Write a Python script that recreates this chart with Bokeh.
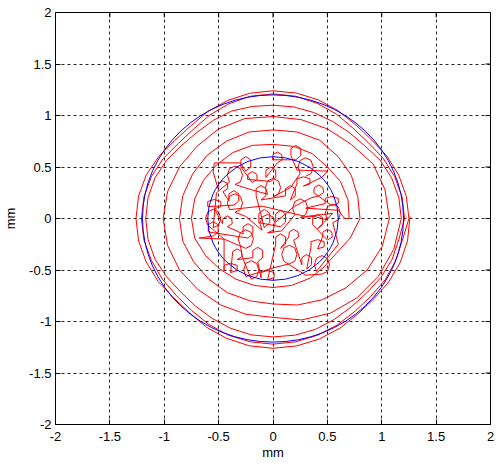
import math
from bokeh.plotting import figure
from bokeh.models import FixedTicker, Range1d
from bokeh.embed import file_html
from bokeh.resources import INLINE

# ---------------- data ----------------
tick_values = [-2, -1.5, -1, -0.5, 0, 0.5, 1, 1.5, 2]
tick_labels = ["-2", "-1.5", "-1", "-0.5", "0", "0.5", "1", "1.5", "2"]

circle_x = [0, 0]
circle_y = [0, 0]
circle_r = [0.6, 1.2]

# red trajectory (mm): first the wide lobes of the inner tangle ...
lobes_path = [
    (0.30, 0.41), (0.35, 0.436), (0.37, 0.50), (0.35, 0.564), (0.30, 0.59), (0.25, 0.564), (0.23, 0.50), (0.25, 0.436),
    (0.16, 0.30),
    (0.00, 0.21), (0.05, 0.236), (0.07, 0.30), (0.05, 0.364), (0.00, 0.39), (-0.05, 0.364), (-0.07, 0.30), (-0.05, 0.236),
    (-0.20, 0.28),
    (-0.35, 0.33), (-0.30, 0.356), (-0.28, 0.42), (-0.30, 0.484), (-0.35, 0.51), (-0.40, 0.484), (-0.42, 0.42), (-0.40, 0.356),
    (-0.52, 0.25),
    (-0.55, -0.09), (-0.50, -0.064), (-0.48, 0.00), (-0.50, 0.064), (-0.55, 0.09), (-0.60, 0.064), (-0.62, 0.00), (-0.60, -0.064),
    (-0.45, -0.20),
    (-0.25, -0.29), (-0.20, -0.264), (-0.18, -0.20), (-0.20, -0.136), (-0.25, -0.11), (-0.30, -0.136), (-0.32, -0.20), (-0.30, -0.264),
    (-0.28, -0.38),
    (-0.20, -0.59), (-0.15, -0.564), (-0.13, -0.50), (-0.15, -0.436), (-0.20, -0.41), (-0.25, -0.436), (-0.27, -0.50), (-0.25, -0.564),
    (0.00, -0.48),
    (0.15, -0.44), (0.20, -0.414), (0.22, -0.35), (0.20, -0.286), (0.15, -0.26), (0.10, -0.286), (0.08, -0.35), (0.10, -0.414),
    (0.30, -0.55),
    (0.45, -0.54), (0.50, -0.514), (0.52, -0.45), (0.50, -0.386), (0.45, -0.36), (0.40, -0.386), (0.38, -0.45), (0.40, -0.514),
    (0.60, -0.25),
    (0.55, -0.04), (0.60, -0.014), (0.62, 0.05), (0.60, 0.114), (0.55, 0.14), (0.50, 0.114), (0.48, 0.05), (0.50, -0.014),
    (0.38, 0.02),
    (0.25, 0.01), (0.30, 0.036), (0.32, 0.10), (0.30, 0.164), (0.25, 0.19), (0.20, 0.164), (0.18, 0.10), (0.20, 0.036),
    (0.08, -0.12),
    (-0.05, -0.14), (0.00, -0.114), (0.02, -0.05), (0.00, 0.014), (-0.05, 0.04), (-0.10, 0.014), (-0.12, -0.05), (-0.10, -0.114),
    (-0.25, 0.02),
    (-0.35, 0.06), (-0.30, 0.086), (-0.28, 0.15), (-0.30, 0.214), (-0.35, 0.24), (-0.40, 0.214), (-0.42, 0.15), (-0.40, 0.086),
    (-0.10, 0.12), (0.30, 0.02),
]

# ... then the small curls of the inner tangle ...
inner_path = [
    (0.55, 0.05),
    (0.41, -0.10), (0.455, -0.06), (0.455, 0.01), (0.41, 0.04), (0.365, 0.01), (0.365, -0.06),
    (0.50, -0.21), (0.545, -0.18), (0.54, -0.13), (0.50, -0.105), (0.46, -0.13), (0.455, -0.18),
    (0.41, -0.295), (0.47, -0.275), (0.47, -0.225), (0.41, -0.205), (0.35, -0.225), (0.35, -0.275),
    (0.31, -0.49), (0.355, -0.45), (0.355, -0.38), (0.31, -0.35), (0.265, -0.38), (0.265, -0.45),
    (0.19, -0.21), (0.235, -0.18), (0.23, -0.13), (0.19, -0.105), (0.15, -0.13), (0.145, -0.18),
    (0.07, -0.29), (0.115, -0.25), (0.115, -0.18), (0.07, -0.15), (0.025, -0.18), (0.025, -0.25),
    (-0.05, -0.595), (0.01, -0.575), (0.01, -0.525), (-0.05, -0.505), (-0.11, -0.525), (-0.11, -0.575),
    (-0.14, -0.42), (-0.095, -0.38), (-0.095, -0.31), (-0.14, -0.28), (-0.185, -0.31), (-0.185, -0.38),
    (-0.33, -0.40), (-0.285, -0.37), (-0.29, -0.32), (-0.33, -0.295), (-0.37, -0.32), (-0.375, -0.37),
    (-0.39, -0.525), (-0.33, -0.505), (-0.33, -0.455), (-0.39, -0.435), (-0.45, -0.455), (-0.45, -0.505),
    (-0.45, -0.20), (-0.68, -0.19),
    (-0.55, -0.17), (-0.505, -0.13), (-0.505, -0.06), (-0.55, -0.03), (-0.595, -0.06), (-0.595, -0.13),
    (-0.23, -0.19), (-0.185, -0.15), (-0.185, -0.08), (-0.23, -0.05), (-0.275, -0.08), (-0.275, -0.15),
    (-0.42, -0.08), (-0.375, -0.05), (-0.38, 0.00), (-0.42, 0.025), (-0.46, 0.00), (-0.465, -0.05),
    (-0.54, 0.095), (-0.48, 0.115), (-0.48, 0.165), (-0.54, 0.185), (-0.60, 0.165), (-0.60, 0.115),
    (-0.36, 0.13), (-0.315, 0.17), (-0.315, 0.24), (-0.36, 0.27), (-0.405, 0.24), (-0.405, 0.17),
    (-0.46, 0.26), (-0.415, 0.29), (-0.42, 0.34), (-0.46, 0.365), (-0.50, 0.34), (-0.505, 0.29),
    (-0.55, 0.45), (-0.54, 0.54), (-0.30, 0.54),
    (-0.25, 0.46), (-0.205, 0.50), (-0.205, 0.57), (-0.25, 0.60), (-0.295, 0.57), (-0.295, 0.50),
    (-0.19, 0.35), (-0.145, 0.38), (-0.15, 0.43), (-0.19, 0.455), (-0.23, 0.43), (-0.235, 0.38),
    (-0.02, 0.36), (0.025, 0.40), (0.025, 0.47), (-0.02, 0.50), (-0.065, 0.47), (-0.065, 0.40),
    (0.04, 0.54), (0.085, 0.57), (0.08, 0.62), (0.04, 0.645), (0.00, 0.62), (-0.005, 0.57),
    (0.21, 0.57), (0.255, 0.61), (0.255, 0.68), (0.21, 0.71), (0.165, 0.68), (0.165, 0.61),
    (0.22, 0.47), (0.50, 0.46), (0.45, 0.40),
    (0.28, 0.315), (0.34, 0.335), (0.34, 0.385), (0.28, 0.405), (0.22, 0.385), (0.22, 0.335),
    (0.16, 0.18), (0.205, 0.22), (0.205, 0.29), (0.16, 0.32), (0.115, 0.29), (0.115, 0.22),
    (-0.11, 0.18), (-0.065, 0.22), (-0.065, 0.29), (-0.11, 0.32), (-0.155, 0.29), (-0.155, 0.22),
    (-0.08, -0.09), (-0.03, -0.04), (-0.03, 0.05), (-0.08, 0.09), (-0.13, 0.05), (-0.13, -0.04),
    (0.07, -0.08), (0.115, -0.035), (0.115, 0.045), (0.07, 0.08), (0.025, 0.045), (0.025, -0.035),
    (0.20, 0.12), (0.35, 0.20),
    (0.42, 0.22), (0.465, 0.25), (0.46, 0.30), (0.42, 0.325), (0.38, 0.30), (0.375, 0.25),
    (0.54, 0.125), (0.60, 0.145), (0.60, 0.195), (0.54, 0.215), (0.48, 0.195), (0.48, 0.145),
    (0.30, 0.10), (0.60, 0.08), (0.66, 0.00),
]

# ... then turns spiralling outwards
loop1 = [
    (0.70, 0.00), (0.69, 0.18), (0.62, 0.36), (0.50, 0.50), (0.36, 0.63), (0.19, 0.70),
    (0.00, 0.72), (-0.19, 0.71), (-0.37, 0.64), (-0.52, 0.52), (-0.64, 0.37), (-0.72, 0.19),
    (-0.75, 0.00), (-0.72, -0.19), (-0.62, -0.36), (-0.49, -0.49), (-0.34, -0.59), (-0.17, -0.65),
    (0.00, -0.67), (0.17, -0.65), (0.34, -0.58), (0.47, -0.47), (0.58, -0.34), (0.71, -0.19),
]
loop2 = [
    (0.80, 0.00), (0.78, 0.21), (0.72, 0.42), (0.60, 0.60), (0.43, 0.76), (0.22, 0.84),
    (0.00, 0.86), (-0.22, 0.84), (-0.43, 0.75), (-0.61, 0.61), (-0.74, 0.43), (-0.83, 0.22),
    (-0.86, 0.00), (-0.83, -0.22), (-0.73, -0.42), (-0.59, -0.59), (-0.42, -0.72), (-0.21, -0.80),
    (0.00, -0.83), (0.225, -0.840), (0.455, -0.788), (0.672, -0.672), (0.866, -0.500), (1.005, -0.269),
]
loop3 = [
    (1.07, 0.00), (1.03, 0.28), (0.92, 0.53), (0.72, 0.72), (0.50, 0.87), (0.26, 0.96),
    (0.00, 0.99), (-0.26, 0.97), (-0.50, 0.87), (-0.70, 0.70), (-0.86, 0.50), (-0.97, 0.26),
    (-1.01, 0.00), (-0.97, -0.26), (-0.86, -0.50), (-0.69, -0.69), (-0.48, -0.84), (-0.25, -0.93),
    (0.00, -0.96), (0.264, -0.985), (0.530, -0.918), (0.771, -0.771), (0.970, -0.560), (1.111, -0.298),
]
loop4 = [
    (1.18, 0.00), (1.157, 0.204), (1.090, 0.397), (0.983, 0.568), (0.843, 0.707), (0.701, 0.835),
    (0.545, 0.944), (0.374, 1.029), (0.191, 1.083),
    (0.00, 1.10), (-0.192, 1.088), (-0.380, 1.043), (-0.550, 0.953), (-0.701, 0.835), (-0.843, 0.707),
    (-0.979, 0.565), (-1.085, 0.395), (-1.149, 0.203),
    (-1.17, 0.00), (-1.149, -0.203), (-1.085, -0.395), (-0.979, -0.565), (-0.850, -0.713), (-0.713, -0.850),
    (-0.560, -0.970), (-0.388, -1.067), (-0.199, -1.130),
    (0.00, -1.15), (0.200, -1.133), (0.392, -1.076), (0.565, -0.979), (0.720, -0.858), (0.862, -0.723),
    (0.992, -0.573), (1.095, -0.398), (1.157, -0.204),
]
loop5 = [
    (1.21, 0.00), (1.187, 0.209), (1.118, 0.407), (1.013, 0.585), (0.877, 0.736), (0.736, 0.877),
    (0.585, 1.013), (0.407, 1.118), (0.209, 1.187),
    (0.00, 1.21), (-0.209, 1.187), (-0.405, 1.114), (-0.580, 1.005), (-0.730, 0.869), (-0.869, 0.730),
    (-1.009, 0.583), (-1.118, 0.407), (-1.187, 0.209),
    (-1.21, 0.00), (-1.187, -0.209), (-1.118, -0.407), (-1.018, -0.588), (-0.890, -0.747), (-0.749, -0.892),
    (-0.593, -1.026), (-0.412, -1.132), (-0.211, -1.197),
    (0.00, -1.22), (0.211, -1.197), (0.412, -1.132), (0.595, -1.031), (0.755, -0.900), (0.900, -0.755),
    (1.031, -0.595), (1.128, -0.410), (1.190, -0.210),
]
loop6 = [
    (1.25, 0.00), (1.226, 0.216), (1.156, 0.421), (1.048, 0.605), (0.908, 0.762), (0.762, 0.908),
    (0.603, 1.044), (0.419, 1.151), (0.215, 1.218),
    (0.00, 1.24), (-0.214, 1.216), (-0.417, 1.146), (-0.600, 1.039), (-0.755, 0.900), (-0.904, 0.758),
    (-1.048, 0.605), (-1.165, 0.424), (-1.236, 0.218),
    (-1.26, 0.00), (-1.236, -0.218), (-1.165, -0.424), (-1.057, -0.610), (-0.915, -0.768), (-0.768, -0.915),
    (-0.610, -1.057), (-0.424, -1.165), (-0.218, -1.236),
    (0.00, -1.26), (0.218, -1.237), (0.426, -1.170), (0.615, -1.065), (0.779, -0.928), (0.928, -0.779),
    (1.065, -0.615), (1.170, -0.426), (1.237, -0.218),
    (1.26, 0.02),
]

path = lobes_path + inner_path + loop1 + loop2 + loop3 + loop4 + loop5 + loop6
path_x = [pt[0] for pt in path]
path_y = [pt[1] for pt in path]

# ---------------- figure ----------------
FONT = "Liberation Sans"
p = figure(width=496, height=468,
           x_range=Range1d(-2, 2), y_range=Range1d(-2, 2),
           output_backend="svg", toolbar_location=None,
           min_border_left=55, min_border_right=6,
           min_border_top=12, min_border_bottom=44)
p.background_fill_color = "white"
p.border_fill_color = "white"
p.outline_line_color = "black"
p.outline_line_width = 1

ticker = FixedTicker(ticks=tick_values)
overrides = dict(zip(tick_values, tick_labels))

for ax in (p.xaxis[0], p.yaxis[0]):
    ax.ticker = ticker
    ax.major_tick_in = 5
    ax.major_tick_out = 0
    ax.minor_tick_line_color = None
    ax.axis_line_color = "black"
    ax.major_tick_line_color = "black"
    ax.major_label_overrides = overrides
    ax.major_label_text_font = FONT
    ax.major_label_text_font_size = "13px"
    ax.major_label_text_color = "black"
    ax.axis_label = "mm"
    ax.axis_label_text_font = FONT
    ax.axis_label_text_font_size = "13px"
    ax.axis_label_text_font_style = "normal"
    ax.axis_label_text_color = "black"
p.xaxis[0].major_label_standoff = 7
p.xaxis[0].axis_label_standoff = 1
p.yaxis[0].major_label_standoff = 4
p.yaxis[0].axis_label_standoff = 8

p.xgrid.ticker = ticker
p.ygrid.ticker = ticker
p.grid.grid_line_color = "black"
p.grid.grid_line_dash = "3 3"
p.grid.grid_line_alpha = 0.85

# inward ticks on the top and right edges of the box (half of each dash is clipped)
p.scatter(x=[2] * len(tick_values), y=tick_values, marker="dash", size=10,
          line_color="black", line_width=1)
p.scatter(x=tick_values, y=[2] * len(tick_values), marker="dash", size=10,
          angle=math.pi / 2, line_color="black", line_width=1)

p.line(path_x, path_y, line_color="#ff0000", line_width=1, line_join="round")
p.ellipse(x=circle_x, y=circle_y,
          width=[2 * r for r in circle_r], height=[2 * r for r in circle_r],
          fill_alpha=0, line_color="#0000ff", line_width=1)

open("out.html", "w").write(file_html(p, INLINE))
